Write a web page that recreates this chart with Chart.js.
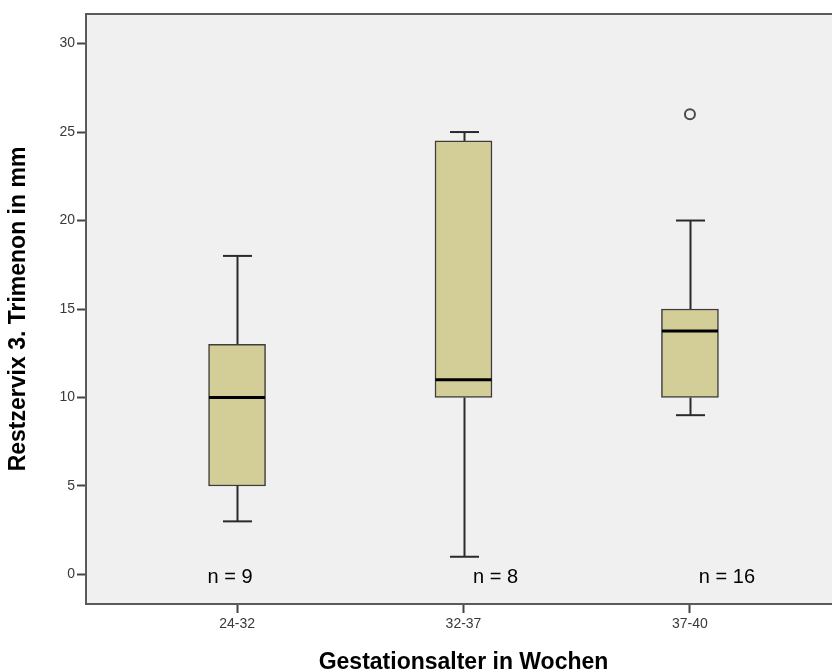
<!DOCTYPE html>
<html lang="de">
<head>
    <meta charset="UTF-8">
    <title>Restzervix nach Gestationsalter</title>
    <script src="https://cdn.jsdelivr.net/npm/chart.js"></script>
    <style>
        html, body { margin: 0; padding: 0; background: #fff; overflow: hidden; }
        #box { display: block; }
    </style>
</head>
<body>
    <canvas id="box" width="848" height="671"></canvas>

    <script>
    // Daten
    const categories  = ['24-32', '32-37', '37-40'];
    const whiskerLow  = [3, 1, 9];
    const q1          = [5, 10, 10];
    const median      = [10, 11, 13.75];
    const q3          = [13, 24.5, 15];
    const whiskerHigh = [18, 25, 20];
    const outlierCat  = [2];
    const outlierVal  = [26];
    const counts      = [9, 8, 16];
    const yTicks      = [0, 5, 10, 15, 20, 25, 30];

    const FONT = '"Liberation Sans", Arial, sans-serif';

    // Whisker, Median, n-Beschriftung und Rahmen
    const boxExtras = {
        id: 'boxExtras',
        beforeDraw(chart) {
            const { ctx, chartArea: a } = chart;
            ctx.save();
            ctx.fillStyle = '#f0f0f0';
            ctx.fillRect(a.left, a.top, a.right - a.left, a.bottom - a.top);
            ctx.restore();
        },
        beforeDatasetsDraw(chart) {
            const { ctx, scales: { x, y } } = chart;
            ctx.save();
            ctx.strokeStyle = '#2a2a2a';
            ctx.lineWidth = 2;
            categories.forEach((c, i) => {
                const px = Math.round(x.getPixelForValue(i)) + 0.5;
                ctx.beginPath();
                ctx.moveTo(px, y.getPixelForValue(q3[i]));
                ctx.lineTo(px, y.getPixelForValue(whiskerHigh[i]));
                ctx.moveTo(px, y.getPixelForValue(q1[i]));
                ctx.lineTo(px, y.getPixelForValue(whiskerLow[i]));
                ctx.stroke();
                [whiskerHigh[i], whiskerLow[i]].forEach(v => {
                    const py = y.getPixelForValue(v);
                    ctx.beginPath();
                    ctx.moveTo(px - 14.5, py);
                    ctx.lineTo(px + 14.5, py);
                    ctx.stroke();
                });
            });
            ctx.restore();
        },
        afterDatasetsDraw(chart) {
            const { ctx, scales: { x, y } } = chart;
            ctx.save();
            ctx.strokeStyle = '#000';
            ctx.lineWidth = 3;
            categories.forEach((c, i) => {
                const px = x.getPixelForValue(i);
                const py = y.getPixelForValue(median[i]);
                ctx.beginPath();
                ctx.moveTo(px - 28, py);
                ctx.lineTo(px + 28, py);
                ctx.stroke();
            });
            // n = ...
            const nOffsets = [-7, 32, 37];
            ctx.fillStyle = '#000';
            ctx.font = '20px ' + FONT;
            ctx.textAlign = 'center';
            ctx.textBaseline = 'middle';
            counts.forEach((n, i) => {
                ctx.fillText('n = ' + n, x.getPixelForValue(i) + nOffsets[i], y.getPixelForValue(0) + 3);
            });
            ctx.restore();
        },
        afterDraw(chart) {
            const { ctx, chartArea: a } = chart;
            ctx.save();
            ctx.strokeStyle = '#5a5a5a';
            ctx.lineWidth = 2;
            ctx.strokeRect(a.left, a.top, a.right - a.left, a.bottom - a.top);
            ctx.restore();
        }
    };

    new Chart(document.getElementById('box'), {
        type: 'bar',
        data: {
            datasets: [{
                label: 'Box',
                data: categories.map((c, i) => ({ x: i, y: [q1[i], q3[i]] })),
                backgroundColor: '#d3ce97',
                borderColor: '#3c3c3c',
                borderWidth: 1.5,
                borderSkipped: false,
                barThickness: 57
            }, {
                type: 'scatter',
                label: 'Ausreißer',
                data: outlierCat.map((c, i) => ({ x: c, y: outlierVal[i] })),
                pointStyle: 'circle',
                pointRadius: 5,
                backgroundColor: '#f0f0f0',
                borderColor: '#4a4a4a',
                borderWidth: 2
            }]
        },
        options: {
            responsive: false,
            animation: false,
            devicePixelRatio: 1,
            layout: { padding: { top: 14, right: 7, bottom: 0, left: 0 } },
            plugins: { legend: { display: false }, tooltip: { enabled: false } },
            scales: {
                x: {
                    type: 'linear',
                    offset: false,
                    min: -0.667,
                    max: 2.667,
                    afterBuildTicks: axis => { axis.ticks = categories.map((c, i) => ({ value: i })); },
                    afterFit: axis => { axis.height = 67; },
                    grid: { display: true, offset: false, drawOnChartArea: false, drawTicks: true, tickLength: 9, tickWidth: 2, tickColor: '#444' },
                    border: { display: false },
                    ticks: {
                        autoSkip: false,
                        maxRotation: 0,
                        padding: 3,
                        color: '#3a3a3a',
                        font: { family: FONT, size: 14 },
                        callback: v => categories[v]
                    },
                    title: {
                        display: true,
                        text: 'Gestationsalter in Wochen',
                        color: '#000',
                        font: { family: FONT, size: 23, weight: 'bold' },
                        padding: { top: 0, bottom: -5 }
                    }
                },
                y: {
                    min: -1.67,
                    max: 31.67,
                    afterBuildTicks: axis => { axis.ticks = yTicks.map(v => ({ value: v })); },
                    afterFit: axis => { axis.width = 86; },
                    grid: { display: true, drawOnChartArea: false, drawTicks: true, tickLength: 9, tickWidth: 2, tickColor: '#444' },
                    border: { display: false },
                    ticks: {
                        padding: 2,
                        color: '#3a3a3a',
                        font: { family: FONT, size: 14 }
                    },
                    title: {
                        display: true,
                        text: 'Restzervix 3. Trimenon in mm',
                        color: '#000',
                        font: { family: FONT, size: 23, weight: 'bold' },
                        padding: { top: 5, bottom: 0 }
                    }
                }
            }
        },
        plugins: [boxExtras]
    });
    </script>
</body>
</html>
